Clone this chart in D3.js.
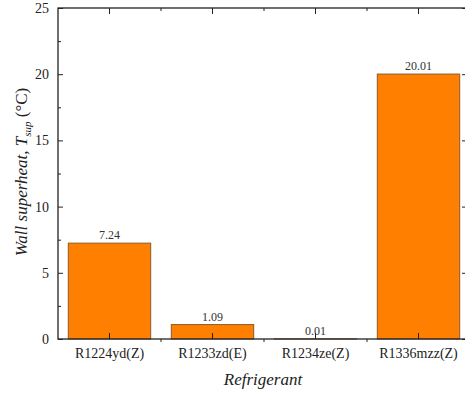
<!DOCTYPE html>
<html>
<head>
<meta charset="utf-8">
<script src="https://d3js.org/d3.v7.min.js"></script>
<style>
body { margin:0; background:#fff; }
</style>
</head>
<body>
<div id="chart"></div>
<script>
// data
var refrigerants = ["R1224yd(Z)", "R1233zd(E)", "R1234ze(Z)", "R1336mzz(Z)"];
var superheat = [7.24, 1.09, 0.01, 20.01];
var labels = ["7.24", "1.09", "0.01", "20.01"];
var yTicks = [0, 5, 10, 15, 20, 25];
var yMinor = [2.5, 7.5, 12.5, 17.5, 22.5];

var W = 465, H = 394;
var plotL = 58, plotR = 470, plotT = 8, plotB = 339;
var serif = "'Liberation Serif', 'Times New Roman', 'DejaVu Serif', serif";

var svg = d3.select("#chart").append("svg")
    .attr("width", W)
    .attr("height", H)
    .attr("font-family", serif);

var x = d3.scaleBand()
    .domain(refrigerants)
    .range([plotL, plotR])
    .paddingInner(0.2)
    .paddingOuter(0.1);

var y = d3.scaleLinear()
    .domain([0, 25])
    .range([plotB, plotT]);

var step = x.step();

// bars
svg.selectAll("rect.bar")
   .data(refrigerants)
   .enter().append("rect")
   .attr("class", "bar")
   .attr("x", function(d) { return x(d); })
   .attr("y", function(d, i) { return y(superheat[i]); })
   .attr("width", x.bandwidth())
   .attr("height", function(d, i) { return plotB - y(superheat[i]); })
   .style("fill", "#FF8000")
   .style("stroke", "#8a5a2a")
   .style("stroke-width", 1);

// value labels
svg.selectAll("text.val")
   .data(refrigerants)
   .enter().append("text")
   .attr("class", "val")
   .attr("x", function(d) { return x(d) + x.bandwidth() / 2; })
   .attr("y", function(d, i) { return y(superheat[i]) - 4; })
   .attr("text-anchor", "middle")
   .style("font-family", serif)
   .style("font-size", "12px")
   .style("fill", "#333")
   .text(function(d, i) { return labels[i]; });

// frame
var axisCol = "#222";
svg.append("rect")
   .attr("x", plotL).attr("y", plotT)
   .attr("width", plotR - plotL).attr("height", plotB - plotT)
   .style("fill", "none")
   .style("stroke", axisCol)
   .style("stroke-width", 1.3);

// left axis
var yAxis = d3.axisLeft(y).tickValues(yTicks).tickSizeInner(-5).tickSizeOuter(0).tickPadding(9);
var gy = svg.append("g").attr("transform", "translate(" + plotL + ",0)").call(yAxis);
gy.select(".domain").remove();
gy.selectAll("line").style("stroke", axisCol);
gy.selectAll("text").style("font-family", serif).style("font-size", "14px").style("fill", "#222");

var gyMinor = svg.append("g").attr("transform", "translate(" + plotL + ",0)")
    .call(d3.axisLeft(y).tickValues(yMinor).tickSizeInner(-3).tickSizeOuter(0).tickFormat(""));
gyMinor.select(".domain").remove();
gyMinor.selectAll("line").style("stroke", axisCol);

// right axis ticks (mostly off-canvas)
var gr = svg.append("g").attr("transform", "translate(" + plotR + ",0)")
    .call(d3.axisRight(y).tickValues(yTicks).tickSizeInner(-8).tickSizeOuter(0).tickFormat(""));
gr.select(".domain").remove();
gr.selectAll("line").style("stroke", axisCol);

// bottom axis
var xAxis = d3.axisBottom(x).tickSizeInner(-6).tickSizeOuter(0).tickPadding(9);
var gx = svg.append("g").attr("transform", "translate(0," + plotB + ")").call(xAxis);
gx.select(".domain").remove();
gx.selectAll("line").style("stroke", axisCol);
gx.selectAll("text").style("font-family", serif).style("font-size", "14px").style("fill", "#222");

// minor ticks at category boundaries
var bounds = refrigerants.slice(1).map(function(d) { return x(d) - step * 0.1; });
svg.selectAll("line.bmin")
   .data(bounds)
   .enter().append("line")
   .attr("x1", function(d) { return d; }).attr("x2", function(d) { return d; })
   .attr("y1", plotB).attr("y2", plotB + 3)
   .style("stroke", axisCol);

// top axis
var gt = svg.append("g").attr("transform", "translate(0," + plotT + ")")
    .call(d3.axisTop(x).tickSizeInner(-6).tickSizeOuter(0).tickFormat(""));
gt.select(".domain").remove();
gt.selectAll("line").style("stroke", axisCol);
svg.selectAll("line.tmin")
   .data(bounds)
   .enter().append("line")
   .attr("x1", function(d) { return d; }).attr("x2", function(d) { return d; })
   .attr("y1", plotT).attr("y2", plotT + 3)
   .style("stroke", axisCol);

// axis titles
svg.append("text")
   .attr("x", 263)
   .attr("y", 385)
   .attr("text-anchor", "middle")
   .style("font-family", serif)
   .style("font-size", "17px")
   .style("font-style", "italic")
   .style("fill", "#222")
   .text("Refrigerant");

var yt = svg.append("text")
   .attr("transform", "translate(27,172) rotate(-90)")
   .attr("text-anchor", "middle")
   .style("font-family", serif)
   .style("font-size", "17px")
   .style("fill", "#222");
yt.append("tspan").style("font-style", "italic").text("Wall superheat, T");
yt.append("tspan").style("font-style", "italic").style("font-size", "11px").attr("dy", 4).text("sup");
yt.append("tspan").attr("dy", -4).text(" (\u00B0C)");
</script>
</body>
</html>
